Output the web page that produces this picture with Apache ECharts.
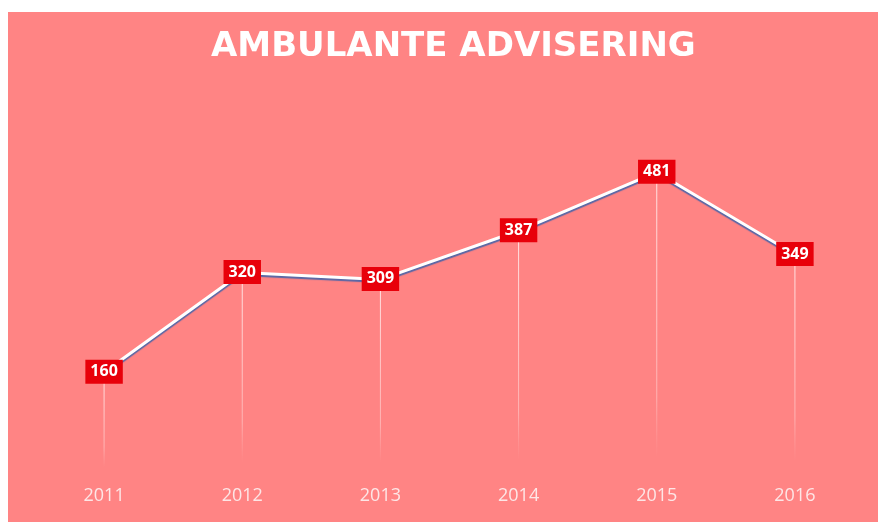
<!DOCTYPE html>
<html><head><meta charset="utf-8">
<script src="https://cdn.jsdelivr.net/npm/echarts@6/dist/echarts.min.js"></script>
<style>html,body{margin:0;padding:0;background:#fff}#c{width:878px;height:522px}</style>
</head><body><div id="c"></div>
<script>
const categories = ['2011','2012','2013','2014','2015','2016'];
const values = [160, 320, 309, 387, 481, 349];
const titleText = 'AMBULANTE ADVISERING';

const chart = echarts.init(document.getElementById('c'));
chart.setOption({
  backgroundColor: '#ffffff',
  animation: false,
  graphic: [{type:'rect', left: 8, top: 12, shape:{width: 870, height: 510}, style:{fill:'#FF8484'}, z: -10}],
  title: {text: titleText, left: 206, top: 25,
    textStyle:{color:'#ffffff', fontFamily:'DejaVu Sans', fontWeight:'bold', fontSize:34}},
  grid: {left: 35, right: 14, top: 98, bottom: 50},
  xAxis: {type:'category', data: categories, boundaryGap: true,
    axisLine:{show:false}, axisTick:{show:false},
    axisLabel:{color:'#FDE6E6', fontFamily:'Open Sans', fontSize:18, margin: 15}},
  yAxis: {type:'value', min:0, max:600, show:false, splitLine:{show:false}},
  series: [
    {type:'bar', data: values, barWidth: 1, silent:true,
      itemStyle:{color: new echarts.graphic.LinearGradient(0,0,0,1,[
        {offset:0,color:'rgba(255,235,235,0.95)'},
        {offset:0.75,color:'rgba(255,225,225,0.5)'},
        {offset:0.95,color:'rgba(255,200,200,0)'}])}},
    {type:'line', data: values, symbol:'circle', symbolSize:1, showSymbol:true, z: 5,
      itemStyle:{color:'#ffffff'},
      lineStyle:{color:'#ffffff', width:3, shadowColor:'rgba(70,100,170,0.9)', shadowBlur:1, shadowOffsetY:2},
      label:{show:true, position:'top', distance:0, offset:[0,12], color:'#ffffff', fontFamily:'Open Sans', fontWeight:'bold', fontSize:16, lineHeight:16,
        backgroundColor:'#E8000A', padding:[4,5,4,5]}}
  ]
});
</script></body></html>
